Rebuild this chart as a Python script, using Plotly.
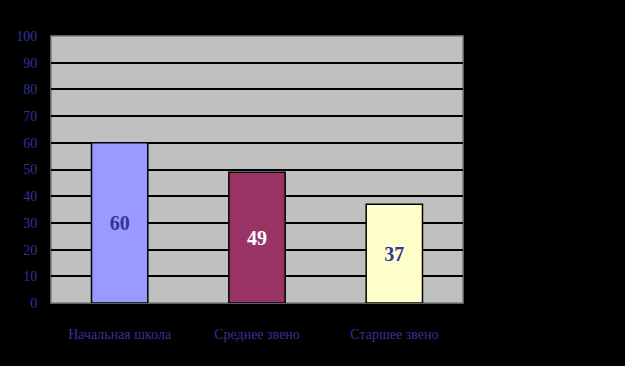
import plotly.graph_objects as go

categories = ["Начальная школа", "Среднее звено", "Старшее звено"]
values = [60, 49, 37]
bar_colors = ["#9999FF", "#993366", "#FFFFCC"]
text_colors = ["#333399", "#FFFFFF", "#333399"]
y_ticks = [0, 10, 20, 30, 40, 50, 60, 70, 80, 90, 100]

fig = go.Figure(go.Bar(
    x=categories,
    y=values,
    marker=dict(color=bar_colors, line=dict(color="#000000", width=1.5)),
    text=[str(v) for v in values],
    textposition="inside",
    insidetextanchor="middle",
    textangle=0,
    textfont=dict(family="Liberation Serif", size=20, color=text_colors, weight="bold"),
))

fig.update_layout(
    width=625, height=366,
    margin=dict(l=51, r=162, t=36, b=63),
    paper_bgcolor="#000000",
    plot_bgcolor="#C0C0C0",
    bargap=0.59,
    showlegend=False,
    font=dict(family="Liberation Serif", size=13, color="#333399"),
    xaxis=dict(
        showgrid=False, showline=False, zeroline=False,
        ticks="outside", ticklen=18, tickcolor="rgba(0,0,0,0)",
        tickfont=dict(family="Liberation Serif", size=14, color="#333399"),
    ),
    yaxis=dict(
        range=[0, 100], tickvals=y_ticks,
        showgrid=True, gridcolor="#000000", gridwidth=1.5,
        zeroline=False, showline=False,
        ticks="outside", ticklen=10, tickcolor="rgba(0,0,0,0)",
        tickfont=dict(family="Liberation Serif", size=14, color="#333399"),
    ),
    shapes=[dict(type="rect", xref="paper", yref="paper", x0=0, x1=1, y0=0, y1=1,
                 line=dict(color="#808080", width=1.5), fillcolor="rgba(0,0,0,0)", layer="below")],
)

fig.write_html("out.html")
